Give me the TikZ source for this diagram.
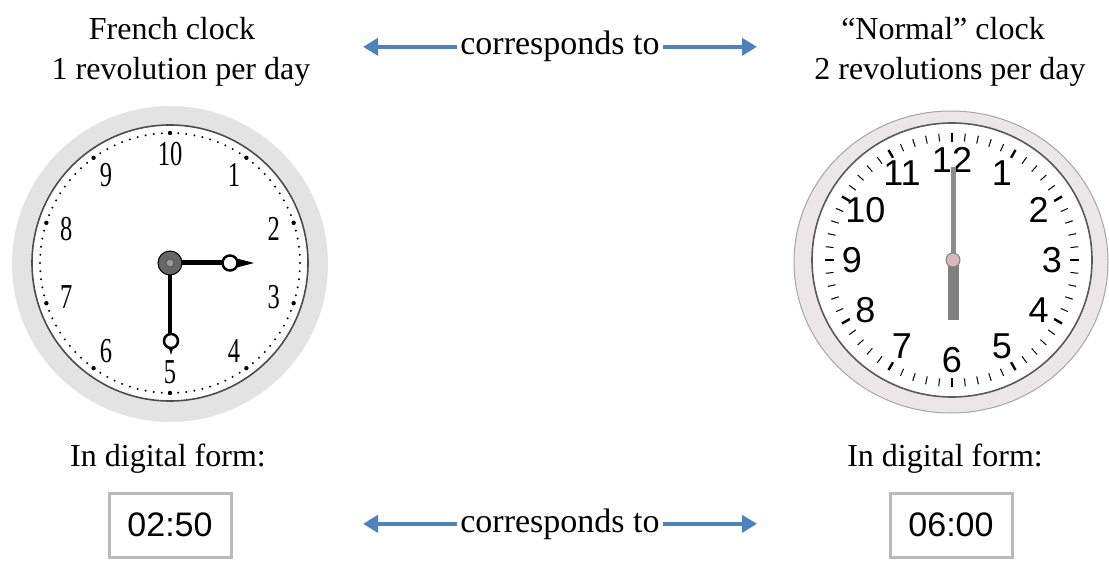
\documentclass[tikz,border=0pt]{standalone}
\usepackage{fontspec}
\setmainfont{Liberation Serif}
\newfontfamily\numfont{Liberation Sans}
\usetikzlibrary{arrows.meta,calc}
\definecolor{arrowblue}{HTML}{4F81BD}
\definecolor{rimgray}{HTML}{E3E3E3}
\definecolor{rimpink}{HTML}{EDE6E8}
\definecolor{pivotpink}{HTML}{D9B7C1}
\begin{document}
\begin{tikzpicture}[x=1pt,y=-1pt,
  lbl/.style={font=\fontsize{32}{40}\selectfont, inner sep=0pt, anchor=base},
  conn/.style={arrowblue, line width=4.5pt, -{Triangle[length=15pt,width=17pt]}},
  frnum/.style={font=\fontsize{35}{35}\selectfont, xscale=0.7, inner sep=0pt},
  nrnum/.style={font=\numfont\fontsize{36}{36}\selectfont, inner sep=0pt},
  digbox/.style={draw=black!27, line width=3pt, minimum width=122pt, minimum height=64pt,
    inner sep=0pt, font=\numfont\fontsize{34}{34}\selectfont},
]
\useasboundingbox (0,0) rectangle (1109,561);

% headings
\node[lbl] (fr1) at (172,40) {French clock};
\node[lbl] (fr2) at (181,80) {1 revolution per day};
\node[lbl] (nr1) at (943,40) {“Normal” clock};
\node[lbl] (nr2) at (950,80) {2 revolutions per day};

% top connectors
\node[lbl, font=\fontsize{34}{40}\selectfont] (ct) at (560,55) {corresponds to};
\coordinate (tl) at (363,48);
\coordinate (tr) at (757,48);
\draw[conn] ([xshift=-3pt]ct.west) -- (ct.west -| tl);
\draw[conn] ([xshift=3pt]ct.east) -- (ct.east -| tr);

% French clock
\fill[rimgray] (170,264) circle (158);
\draw[black!70, line width=1.6pt, fill=white] (170,263) circle (138);
\foreach \i in {0,...,99}{
  \fill (170,263) ++({90+\i*3.6}:-130) circle (1.1);
}
\foreach \i in {0,...,9}{
  \fill (170,263) ++({90+\i*36}:-130) circle (2.2);
}
\foreach \k in {1,...,10}{
  \node[frnum] (fn\k) at ($(170,263)+({90+\k*36}:-109)$) {\k};
}
% hands
\draw[line width=5pt] (170,263) -- (222,263);
\fill (235,258) -- (254,263) -- (235,268) -- cycle;
\draw[line width=2.5pt, fill=white] (230,263) circle (7.5);
\draw[line width=4.5pt] (170,263) -- (170,333);
\fill (168,345) -- (171,355) -- (174,345) -- cycle;
\draw[line width=2.5pt, fill=white] (171,341) circle (7);
\draw[black, line width=1pt, fill=black!60] (170,263) circle (12);
\draw[black!80, fill=black!40] (170,263) circle (4);

% Normal clock
\draw[black!35, fill=rimpink, line width=1pt] (951,262) ellipse (157 and 151);
\draw[black!65, line width=1.6pt, fill=white] (952,260) ellipse (140 and 137);
\foreach \i in {0,...,59}{
  \draw[line width=1pt] (952,260) ++({90+\i*6}:-119) -- ++({90+\i*6}:-8);
}
\foreach \i in {0,...,11}{
  \draw[line width=2.4pt] (952,260) ++({90+\i*30}:-118) -- ++({90+\i*30}:-9);
}
\foreach \k in {1,...,12}{
  \node[nrnum] (nn\k) at ($(952,260)+({90+\k*30}:-100)$) {\k};
}
\draw[black!45, line width=5pt] (953,260) -- (953,167);
\draw[black!50, line width=11pt] (953,260) -- (953,320);
\draw[black!50, fill=pivotpink, line width=1pt] (953,260) circle (7);

% digital forms
\node[lbl] (df1) at (168,466) {In digital form:};
\node[lbl] (df2) at (945,466) {In digital form:};
\node[digbox] (d1) at (170,525) {02:50};
\node[digbox] (d2) at (951,525) {06:00};

% bottom connectors
\node[lbl, font=\fontsize{34}{40}\selectfont] (cb) at (560,532) {corresponds to};
\draw[conn] ([xshift=-3pt]cb.west) -- (cb.west -| tl);
\draw[conn] ([xshift=3pt]cb.east) -- (cb.east -| tr);
\end{tikzpicture}
\end{document}
